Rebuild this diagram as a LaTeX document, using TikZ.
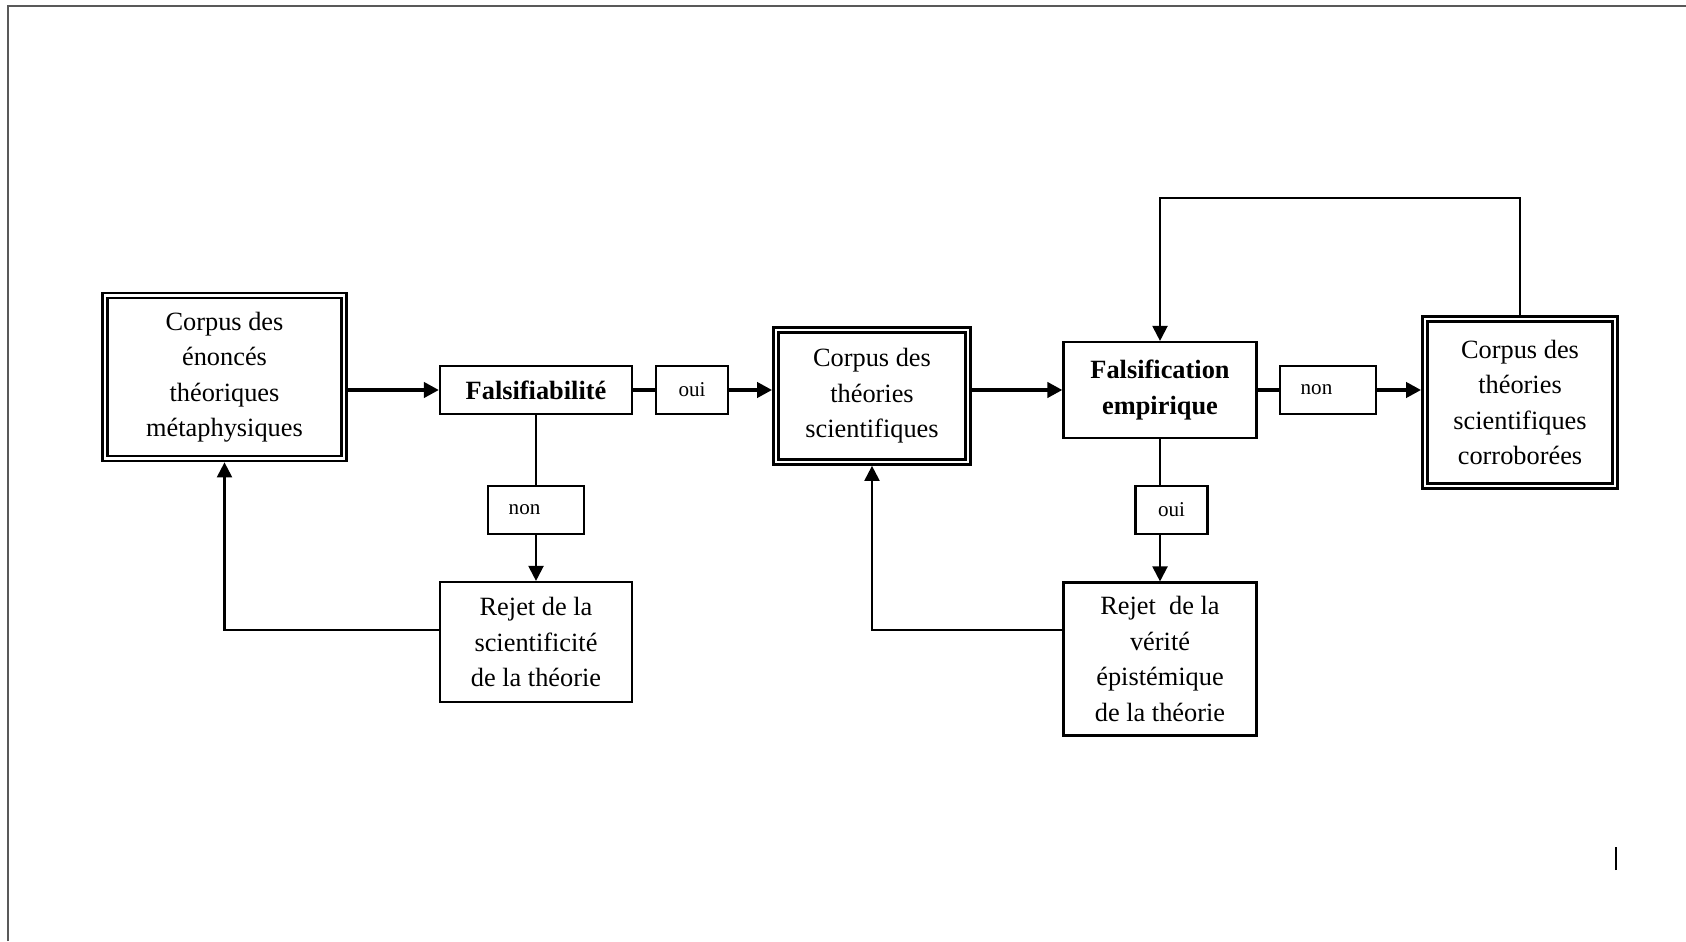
\documentclass[tikz,border=0pt]{standalone}
\usepackage{fontspec}
\setmainfont{Liberation Serif}
\usetikzlibrary{arrows.meta}

\begin{document}
\begin{tikzpicture}[
  boite/.style={draw, line width=0.6pt, inner sep=0pt, align=center, font=\fontsize{7.5}{10.1}\selectfont},
  cadre/.style={boite, line width=0.7pt, double, double distance=0.8pt, outer sep=1.1pt},
  choix/.style={boite, font=\fontsize{6}{7}\selectfont, minimum height=0.485cm},
  fleche/.style={-{Triangle[length=4.3pt, width=4.3pt]}},
  fort/.style={line width=1.1pt},
  fin/.style={line width=0.6pt}
]
\useasboundingbox (0,0) rectangle (16.86,9.41);
\draw[black!65, line width=0.6pt] (0.08,0) -- (0.08,9.35) -- (16.86,9.35);

\node[cadre, minimum width=2.39cm, minimum height=1.63cm] (metaphys) at (2.245,5.64) {Corpus des\\énoncés\\théoriques\\métaphysiques};
\node[boite, font=\fontsize{7.5}{10.1}\selectfont\bfseries, minimum width=1.92cm, minimum height=0.486cm] (falsif) at (5.36,5.51) {Falsifiabilité};
\node[choix, minimum width=0.726cm] (oui1) at (6.92,5.51) {oui};
\node[choix, text width=0.546cm, inner xsep=0.21cm, align=left] (non1) at (5.36,4.31) {non};
\node[boite, minimum width=1.92cm, minimum height=1.2cm] (rejet1) at (5.36,2.99) {Rejet de la\\scientificité\\de la théorie};
\node[cadre, minimum width=1.92cm, minimum height=1.32cm] (theories) at (8.72,5.45) {Corpus des\\théories\\scientifiques};
\node[boite, font=\fontsize{7.5}{10.1}\selectfont\bfseries, minimum width=1.93cm, minimum height=0.96cm] (falsemp) at (11.60,5.51) {Falsification\\empirique};
\node[choix, text width=0.547cm, inner xsep=0.21cm, align=left] (non2) at (13.28,5.51) {non};
\node[choix, minimum width=0.72cm] (oui2) at (11.715,4.31) {oui};
\node[boite, minimum width=1.93cm, minimum height=1.53cm] (rejet2) at (11.60,2.82) {Rejet~ de la\\vérité\\épistémique\\de la théorie};
\node[cadre, minimum width=1.9cm, minimum height=1.67cm] (corrob) at (15.20,5.385) {Corpus des\\théories\\scientifiques\\corroborées};
\coordinate (retour) at (11.60,7.43);

\draw[fort, fleche] (metaphys.east |- falsif.west) -- (falsif.west);
\draw[fort] (falsif.east) -- (oui1.west);
\draw[fort, fleche] (oui1.east) -- (oui1.east -| theories.west);
\draw[fort, fleche] (theories.east |- falsemp.west) -- (falsemp.west);
\draw[fort] (falsemp.east) -- (non2.west);
\draw[fort, fleche] (non2.east) -- (non2.east -| corrob.west);

\draw[fin] (falsif.south) -- (non1.north);
\draw[fin, fleche] (non1.south) -- (rejet1.north);
\draw[fin, fleche] ([yshift=0.12cm]rejet1.west) -| (metaphys.south);
\draw[fin] (falsemp.south) -- (falsemp.south |- oui2.north);
\draw[fin, fleche] (falsemp.south |- oui2.south) -- (rejet2.north);
\draw[fin, fleche] ([yshift=0.29cm]rejet2.west) -| (theories.south);
\draw[fin, fleche] (corrob.north) |- (retour) -- (falsemp.north);

\draw[line width=0.6pt] (16.16,0.71) -- (16.16,0.94);
\end{tikzpicture}
\end{document}
